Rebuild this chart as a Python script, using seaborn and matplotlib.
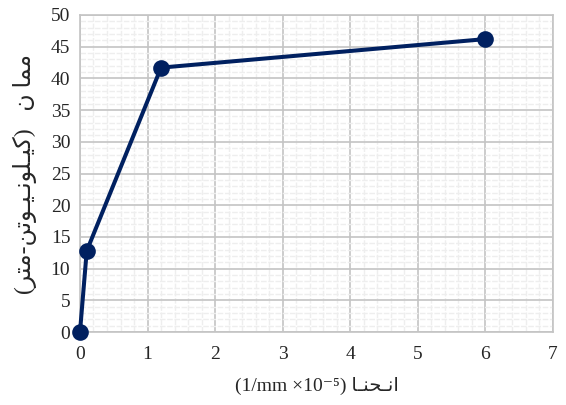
import matplotlib
matplotlib.use("Agg")
import matplotlib.pyplot as plt
from matplotlib.ticker import MultipleLocator
import seaborn as sns
import pandas as pd

# curvature (1/mm x10^-5) and moment (kN-m)
curvature = [0, 0.1, 1.2, 6.0]
moment = [0, 12.8, 41.7, 46.2]

x_ticks = [0, 1, 2, 3, 4, 5, 6, 7]
y_ticks = [0, 5, 10, 15, 20, 25, 30, 35, 40, 45, 50]

# Persian labels, given in visual order with presentation forms (no shaping in matplotlib)
x_word = "\uFE8E\u0640\uFEE8\uFEA4\u0640\uFEE7\uFE8D"  # انـحنـا
mom_word = "\uFEE5 \uFE8E\uFEE4\uFEE3"  # ممان
kn_word = "\uFEE6\uFE97\uFEEE\u0640\uFBFF\u0640\uFEE7\uFEEE\uFEE0\u0640\uFBFF\uFB90"  # کیلونیوتن
m_word = "\uFEAE\uFE98\uFEE3"  # متر
y_label = "(" + m_word + "-" + kn_word + ")   " + mom_word
x_label = "(1/mm \u00d710\u207b\u2075) " + x_word

df = pd.DataFrame({"curv": curvature, "moment": moment})

sns.set_style("white")
fams = ["Liberation Serif", "DejaVu Sans"]

fig = plt.figure(figsize=(5.66, 4.05), dpi=100)
ax = fig.add_axes([0.1413, 0.180, 0.8357, 0.783])

sns.lineplot(data=df, x="curv", y="moment", ax=ax, color="#002060",
             linewidth=2.9, marker="o", markersize=12, markeredgewidth=0,
             zorder=5, clip_on=False)

ax.set_xlim(0, 7)
ax.set_ylim(0, 50)
ax.set_xticks(x_ticks)
ax.set_yticks(y_ticks)
ax.xaxis.set_minor_locator(MultipleLocator(0.2))
ax.yaxis.set_minor_locator(MultipleLocator(1))
ax.grid(which="minor", color="#eeeeee", linewidth=1.0, linestyle=(0, (4, 1.2)))
ax.grid(which="major", color="#c4c4c4", linewidth=1.2)
ax.set_axisbelow(True)
for s in ax.spines.values():
    s.set_color("#c4c4c4")
    s.set_linewidth(1.2)
ax.tick_params(axis="x", which="both", length=0, pad=10)
ax.tick_params(axis="y", which="both", length=0, pad=7)
for lab in ax.get_xticklabels() + ax.get_yticklabels():
    lab.set_family("Liberation Serif")
    lab.set_fontsize(14)

ax.set_xlabel(x_label, fontsize=14, family=fams, labelpad=10)
ax.set_ylabel(y_label, fontsize=17, family=fams, labelpad=10)

fig.savefig("out.png", dpi=100)
